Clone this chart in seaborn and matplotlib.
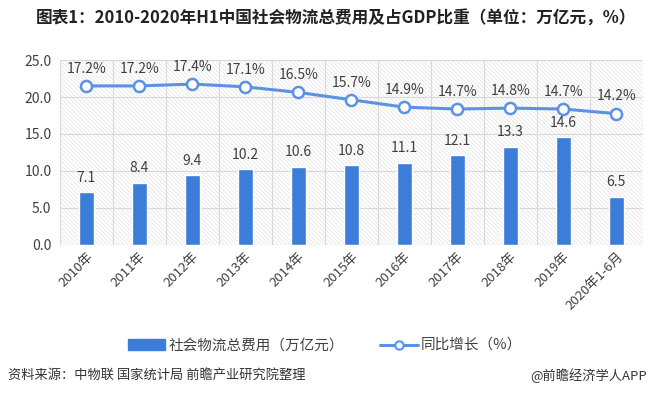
import matplotlib
matplotlib.use("Agg")
import matplotlib.pyplot as plt
import seaborn as sns
import pandas as pd
from matplotlib.patches import Rectangle
from matplotlib.lines import Line2D

years = ["2010年", "2011年", "2012年", "2013年", "2014年", "2015年",
         "2016年", "2017年", "2018年", "2019年", "2020年1-6月"]
cost = [7.1, 8.4, 9.4, 10.2, 10.6, 10.8, 11.1, 12.1, 13.3, 14.6, 6.5]
gdp_share = [17.2, 17.2, 17.4, 17.1, 16.5, 15.7, 14.9, 14.7, 14.8, 14.7, 14.2]
y_ticks = [0, 5, 10, 15, 20, 25]

bar_color = "#3b7dd8"
line_color = "#5b93e3"
text_color = "#404040"

sns.set_theme(style="white")
plt.rcParams['font.family'] = ['Noto Sans CJK SC', 'DejaVu Sans']
plt.rcParams['hatch.linewidth'] = 0.5

df = pd.DataFrame({"year": years, "cost": cost, "share": gdp_share})

fig = plt.figure(figsize=(6.5, 3.95), dpi=100)
ax = fig.add_axes([0.092, 0.380, 0.897, 0.468])

# hatched plot background
ax.add_patch(Rectangle((0, 0), 1, 1, transform=ax.transAxes, hatch='\\' * 8,
                       fill=False, edgecolor="#e2e2e2", linewidth=0, zorder=0))

sns.barplot(data=df, x="year", y="cost", color=bar_color, width=0.28,
            saturation=1, ax=ax, zorder=3)
ax.set_ylim(0, 25)
ax.set_yticks(y_ticks)
ax.set_yticklabels([f"{v:.1f}" for v in y_ticks], color=text_color, fontsize=10)
ax.set_xlim(-0.5, len(years) - 0.5)
ax.set_xticks(range(len(years)))
ax.set_xticklabels(years, rotation=45, ha="right", rotation_mode="anchor",
                   color=text_color, fontsize=9.5)
ax.tick_params(axis="x", length=0, pad=4)
ax.tick_params(axis="y", length=0, pad=6)
ax.set_xlabel("")
ax.set_ylabel("")

# grid
for y in y_ticks[1:]:
    ax.axhline(y, color="#d9d9d9", linewidth=0.8, zorder=1)
for x in range(len(years) + 1):
    ax.axvline(x - 0.5, color="#d9d9d9", linewidth=0.8, zorder=1)
for s in ax.spines.values():
    s.set_visible(False)
ax.axhline(0, color="#bfbfbf", linewidth=0.8, zorder=4)

for i, v in enumerate(cost):
    ax.text(i, v + 1.0, f"{v:.1f}", ha="center", va="bottom", fontsize=10, color=text_color)

ax2 = ax.twinx()
sns.lineplot(data=df, x="year", y="share", ax=ax2, color=line_color, linewidth=2.2,
             marker="o", markersize=8, markerfacecolor="white",
             markeredgecolor=line_color, markeredgewidth=1.8, zorder=5)
ax2.set_ylim(0, 20)
ax2.set_yticks([])
ax2.set_ylabel("")
for s in ax2.spines.values():
    s.set_visible(False)
for i, v in enumerate(gdp_share):
    ax2.text(i, v + 1.1, f"{v:.1f}%", ha="center", va="bottom", fontsize=10, color=text_color)

handles = [Rectangle((0, 0), 1, 1, color=bar_color),
           Line2D([0], [0], color=line_color, linewidth=2.2, marker="o", markersize=6,
                  markerfacecolor="white", markeredgecolor=line_color, markeredgewidth=1.5)]
fig.legend(handles, ["社会物流总费用（万亿元）", "同比增长（%）"], loc="center",
           bbox_to_anchor=(0.5, 0.125), ncol=2, frameon=False, fontsize=10.5,
           handlelength=2.6, columnspacing=2.5, handletextpad=0.2,
           labelcolor=text_color)

fig.text(0.055, 0.955, "图表1：2010-2020年H1中国社会物流总费用及占GDP比重（单位：万亿元，%）",
         fontsize=12, fontweight="bold", color="#222222", va="center")
fig.text(0.012, 0.05, "资料来源：中物联 国家统计局 前瞻产业研究院整理", fontsize=9.5,
         color="#333333", va="center", fontweight="medium")
fig.text(0.995, 0.05, "@前瞻经济学人APP", fontsize=9.5, color="#333333",
         va="center", ha="right")

fig.savefig("out.png", dpi=100)
